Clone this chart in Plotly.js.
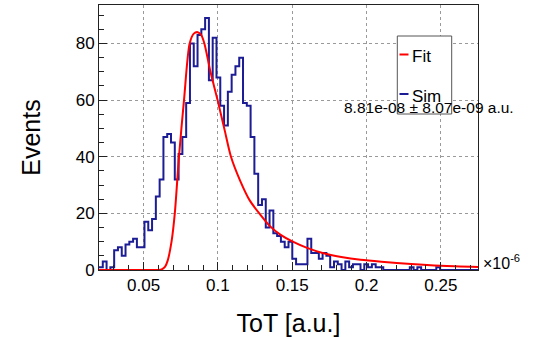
<!DOCTYPE html>
<html><head><meta charset="utf-8">
<script src="https://cdn.plot.ly/plotly-3.0.1.min.js"></script>
<style>html,body{margin:0;padding:0;background:#fff;}#plot{width:549px;height:337px;}</style>
</head><body><div id="plot"></div>
<script>
// ---- data (x in units of 1e-6) ----
const histMin = 0.02;
const histMax = 0.275;
const simCounts = [
  1, 3, 0, 1, 7, 8, 5, 9, 10, 11,
  8, 8, 17, 14, 18, 26, 32, 47, 48, 45,
  32, 41, 47, 59, 80, 72, 83, 85, 89, 67,
  82, 68, 58, 51, 63, 69, 72, 75, 59, 58,
  47, 34, 23, 25, 15, 21, 13, 12, 10, 8,
  10, 4, 2, 2, 2, 11, 6, 6, 4, 6,
  5, 1, 3, 2, 0, 3, 1, 2, 2, 0,
  2, 1, 2, 1, 1, 0, 0, 0, 0, 0,
  0, 0, 1, 0, 1, 0, 0, 0, 0, 1,
  0, 0, 0, 0, 0, 0, 0, 0, 0, 0
];
const fitX = [0.020, 0.050, 0.0600, 0.0625, 0.0645, 0.0662, 0.0688, 0.0710, 0.0738, 0.0772, 0.0810, 0.0838, 0.0864, 0.0888, 0.0909, 0.0950, 0.0998, 0.1045, 0.1088, 0.1150, 0.1215, 0.1286, 0.1350, 0.1420, 0.1504, 0.1600, 0.1710, 0.1830, 0.1960, 0.2100, 0.2300, 0.2500, 0.2750];
const fitY = [0, 0, 0, 0.3, 1.2, 3.3, 10, 20, 40, 60, 80, 83.5, 84, 83, 80, 70, 60, 49.5, 40, 31.5, 24.5, 19.5, 15.5, 12.5, 10, 7.8, 5.9, 4.6, 3.6, 2.9, 2.1, 1.5, 1.1];
const xTickVals = [0.05, 0.1, 0.15, 0.2, 0.25];
const xTickText = ['0.05', '0.1', '0.15', '0.2', '0.25'];
const yTickVals = [0, 20, 40, 60, 80];
const yTickText = ['0', '20', '40', '60', '80'];
const legendLabels = ['Fit', 'Sim'];
const mpvLabel = '8.81e-08 \u00b1 8.07e-09 a.u.';
const xTitle = 'ToT [a.u.]';
const yTitle = 'Events';
const xExponent = '\u00d710<sup>-6</sup>';

// ---- build step outline from bin edges ----
const nBins = simCounts.length;
const bw = (histMax - histMin) / nBins;
const stepX = simCounts.map((_, i) => histMin + i * bw).concat([histMax]);
const stepY = simCounts.concat([simCounts[nBins - 1]]);

// ---- geometry helpers (pixel -> paper) ----
const W = 549, H = 337, L = 99, R = 478, T = 5, B = 270;
const px = x => (x - L) / (R - L);
const py = y => (B - y) / (B - T);

const FONT = 'Liberation Sans, Arial, Helvetica, sans-serif';
const RED = '#ff0000', BLUE = '#1c1c94';

const traces = [
  {x: stepX, y: stepY, type: 'scatter', mode: 'lines', line: {shape: 'hv', color: BLUE, width: 2}, name: legendLabels[1], showlegend: false, hoverinfo: 'skip'},
  {x: fitX, y: fitY, type: 'scatter', mode: 'lines', line: {shape: 'spline', smoothing: 0.8, color: RED, width: 2}, name: legendLabels[0], showlegend: false, hoverinfo: 'skip'}
];

const axisCommon = {
  showline: true, linecolor: '#222', linewidth: 1, mirror: true,
  ticks: 'inside', ticklen: 8, tickcolor: '#222', tickwidth: 1,
  showgrid: true, gridcolor: '#9a9a9a', griddash: 'dot', gridwidth: 1,
  zeroline: false, tickfont: {family: FONT, size: 17, color: '#000'},
  fixedrange: true
};

const layout = {
  width: W, height: H,
  margin: {l: L, r: W - R, t: T, b: H - B, pad: 0},
  paper_bgcolor: '#fff', plot_bgcolor: '#fff',
  showlegend: false,
  font: {family: FONT, color: '#000'},
  xaxis: Object.assign({}, axisCommon, {
    range: [histMin, histMax], tickmode: 'array', tickvals: xTickVals, ticktext: xTickText,
    minor: {tick0: 0, dtick: 0.01, ticks: 'inside', ticklen: 5, tickcolor: '#222', showgrid: false},
    title: {text: xTitle, font: {family: FONT, size: 25, color: '#000'}, standoff: 22},
    automargin: false
  }),
  yaxis: Object.assign({}, axisCommon, {
    range: [0, 93.6], tickmode: 'array', tickvals: yTickVals, ticktext: yTickText,
    minor: {tick0: 0, dtick: 5, ticks: 'inside', ticklen: 5, tickcolor: '#222', showgrid: false},
    title: {text: yTitle, font: {family: FONT, size: 25, color: '#000'}, standoff: 27},
    automargin: false
  }),
  shapes: [
    {type: 'rect', xref: 'paper', yref: 'paper', x0: px(397.3), x1: px(451.7), y0: py(114), y1: py(36),
     line: {color: '#555', width: 1}, fillcolor: '#fff', layer: 'above'},
    {type: 'line', xref: 'paper', yref: 'paper', x0: px(399.5), x1: px(408.5), y0: py(54.5), y1: py(54.5),
     line: {color: RED, width: 2}, layer: 'above'},
    {type: 'line', xref: 'paper', yref: 'paper', x0: px(399.5), x1: px(408.5), y0: py(94), y1: py(94),
     line: {color: BLUE, width: 2}, layer: 'above'}
  ],
  annotations: [
    {xref: 'paper', yref: 'paper', x: px(410), y: py(56.5), xanchor: 'left', yanchor: 'middle', showarrow: false,
     text: legendLabels[0], font: {family: FONT, size: 17, color: '#000'}},
    {xref: 'paper', yref: 'paper', x: px(410), y: py(96), xanchor: 'left', yanchor: 'middle', showarrow: false,
     text: legendLabels[1], font: {family: FONT, size: 17, color: '#000'}},
    {xref: 'paper', yref: 'paper', x: px(428.5), y: py(107.5), xanchor: 'center', yanchor: 'middle', showarrow: false,
     text: mpvLabel, font: {family: FONT, size: 15.5, color: '#000'}},
    {xref: 'paper', yref: 'paper', x: px(481), y: py(262), xanchor: 'left', yanchor: 'middle', showarrow: false,
     text: xExponent, font: {family: FONT, size: 16, color: '#000'}}
  ]
};

Plotly.newPlot('plot', traces, layout, {staticPlot: true, displayModeBar: false});
</script>
</body></html>
